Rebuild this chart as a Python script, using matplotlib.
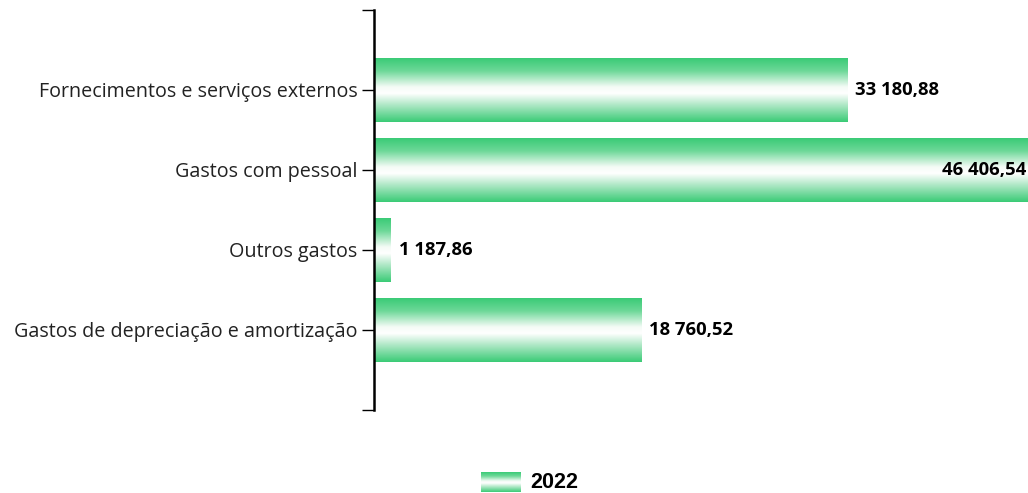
import numpy as np
import matplotlib.pyplot as plt
from matplotlib.colors import LinearSegmentedColormap

# datos
categorias = ["Fornecimentos e serviços externos", "Gastos com pessoal",
              "Outros gastos", "Gastos de depreciação e amortização"]
valores = [33180.88, 46406.54, 1187.86, 18760.52]
etiquetas = ["33 180,88", "46 406,54", "1 187,86", "18 760,52"]
serie = "2022"

verde = "#3acb76"
cmap = LinearSegmentedColormap.from_list(
    "barra", [(0, verde), (0.2, "#6dd898"), (0.45, "#f4fbf6"), (0.55, "#ffffff"),
              (0.75, "#a8e6c1"), (1, verde)])

fig = plt.figure(figsize=(10.28, 4.93), dpi=100)
ax = fig.add_axes([374/1028, 1 - 410/493, 1 - 374/1028, 400/493])

grad = np.linspace(0, 1, 256).reshape(-1, 1)
alto = 0.8
xmax = 45860
for i, v in enumerate(valores):
    ax.imshow(grad, cmap=cmap, aspect="auto", interpolation="bilinear",
              extent=(0, v, i + alto/2, i - alto/2), zorder=2)
    if v > xmax * 0.9:
        ax.text(xmax - 100, i, etiquetas[i], ha="right", va="center",
                fontsize=13.3, fontweight="bold", family="Open Sans", zorder=3)
    else:
        ax.text(v + 550, i, etiquetas[i], ha="left", va="center",
                fontsize=13.3, fontweight="bold", family="Open Sans", zorder=3)

ax.set_xlim(0, xmax)
ax.set_ylim(4, -1)
ax.set_yticks(range(-1, 5))
ax.set_yticklabels([""] + categorias + [""], fontsize=14.2, family="Open Sans",
                   color="#222222")
ax.tick_params(axis="y", length=9, width=1, pad=3)
ax.set_xticks([])
for s in ["top", "right", "bottom"]:
    ax.spines[s].set_visible(False)
ax.spines["left"].set_linewidth(1.8)

# leyenda
lax = fig.add_axes([481/1028, 1 - 492/493, 40/1028, 20/493])
lax.imshow(grad, cmap=cmap, aspect="auto", interpolation="bilinear")
lax.axis("off")
fig.text(530/1028, 1 - 482/493, serie, ha="left", va="center",
         fontsize=15.5, fontweight="bold", family="Liberation Sans")

fig.savefig("out.png", dpi=100)
